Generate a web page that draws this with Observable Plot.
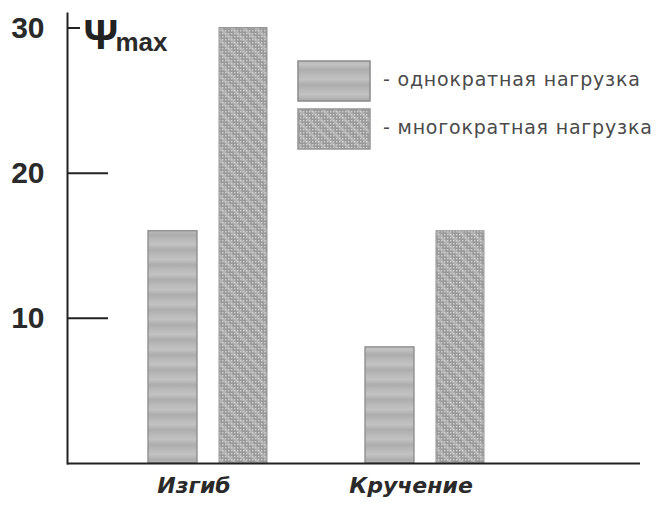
<!DOCTYPE html>
<html>
<head>
<meta charset="utf-8">
<script src="https://cdn.jsdelivr.net/npm/d3@7"></script>
<script src="https://cdn.jsdelivr.net/npm/@observablehq/plot@0.6"></script>
<style>
  html, body { margin: 0; padding: 0; background: #fff; }
  #wrap { position: relative; width: 659px; height: 505px; }
  #legend { position: absolute; left: 297px; top: 59px; font-family: "DejaVu Sans", sans-serif; font-size: 19px; color: #4a4a4a; }
  .item { display: flex; align-items: center; height: 44px; margin-bottom: 4px; }
  .item svg { display: block; }
  .item span { margin-left: 11px; letter-spacing: 0.8px; position: relative; top: -2px; }
  #defs { position: absolute; width: 0; height: 0; }
</style>
</head>
<body>
<svg id="defs" width="0" height="0">
  <defs>
    <linearGradient id="bandGrad" x1="0" y1="0" x2="0" y2="1">
      <stop offset="0" stop-color="#bababa"/>
      <stop offset="0.3" stop-color="#c2c2c2"/>
      <stop offset="0.65" stop-color="#adadad"/>
      <stop offset="1" stop-color="#bababa"/>
    </linearGradient>
    <pattern id="stripes" patternUnits="userSpaceOnUse" width="12" height="15">
      <rect width="12" height="15" fill="url(#bandGrad)"/>
    </pattern>
    <pattern id="dots" patternUnits="userSpaceOnUse" width="12" height="12">
      <rect width="12" height="12" fill="#999999"/>
      <path d="M-3,-3 L15,15 M-3,9 L3,15 M9,-3 L15,3" stroke="#b3b3b3" stroke-width="3"/>
      <g fill="#d0d0d0">
        <rect x="0" y="0" width="1.4" height="1.4"/><rect x="3" y="0" width="1.4" height="1.4"/><rect x="6" y="0" width="1.4" height="1.4"/><rect x="9" y="0" width="1.4" height="1.4"/>
        <rect x="0" y="3" width="1.4" height="1.4"/><rect x="3" y="3" width="1.4" height="1.4"/><rect x="6" y="3" width="1.4" height="1.4"/><rect x="9" y="3" width="1.4" height="1.4"/>
        <rect x="0" y="6" width="1.4" height="1.4"/><rect x="3" y="6" width="1.4" height="1.4"/><rect x="6" y="6" width="1.4" height="1.4"/><rect x="9" y="6" width="1.4" height="1.4"/>
        <rect x="0" y="9" width="1.4" height="1.4"/><rect x="3" y="9" width="1.4" height="1.4"/><rect x="6" y="9" width="1.4" height="1.4"/><rect x="9" y="9" width="1.4" height="1.4"/>
      </g>
    </pattern>
  </defs>
</svg>
<div id="wrap">
  <div id="chart"></div>
  <div id="legend"></div>
</div>
<script>
// ---- data ----
const categories = ["Изгиб", "Кручение"];
const seriesNames = ["однократная нагрузка", "многократная нагрузка"];
const singleLoad = [16, 8];
const repeatedLoad = [30, 16];
const yTicks = [10, 20, 30];
const yLabel = ["Ψ", "max"];

// ---- tables built from the arrays ----
const singleData = categories.map((c, i) => ({category: c, value: singleLoad[i]}));
const repeatedData = categories.map((c, i) => ({category: c, value: repeatedLoad[i]}));
const fills = ["url(#stripes)", "url(#dots)"];
const strokes = ["#8a8a8a", "#959595"];

const chart = Plot.plot({
  width: 659,
  height: 505,
  marginLeft: 67,
  marginRight: 19,
  marginTop: 13,
  marginBottom: 42,
  style: {background: "white", color: "#222", fontFamily: "'Liberation Sans', Arial, sans-serif"},
  x: {domain: categories, paddingInner: 0, paddingOuter: 0.32, align: 0},
  y: {domain: [0, 31]},
  marks: [
    Plot.barY(singleData, {x: "category", y: "value", insetLeft: 81, insetRight: 87,
      fill: fills[0], stroke: strokes[0], strokeWidth: 1.3}),
    Plot.barY(repeatedData, {x: "category", y: "value", insetLeft: 152, insetRight: 17,
      fill: fills[1], stroke: strokes[1], strokeWidth: 1}),
    Plot.tickY(yTicks.filter(d => d < 30), {y: d => d, insetRight: 532, stroke: "#222", strokeWidth: 2}),
    Plot.tickY(yTicks.filter(d => d >= 30), {y: d => d, insetRight: 560, stroke: "#222", strokeWidth: 2}),
    Plot.ruleY([0], {stroke: "#222", strokeWidth: 2}),
    Plot.frame({anchor: "left", stroke: "#222", strokeWidth: 2}),
    Plot.axisY({ticks: yTicks, tickSize: 0, tickPadding: 23, fontSize: 30, fontWeight: "bold",
      fill: "#2a2a2a", label: null}),
    Plot.axisX({tickSize: 0, tickPadding: 14, fontSize: 22, fontWeight: "bold", fontStyle: "italic",
      fontFamily: "'DejaVu Sans', sans-serif", fill: "#2a2a2a", dx: 18, label: null}),
    Plot.text([yLabel[0]], {text: d => d, frameAnchor: "top-left", dx: 16, dy: 35, lineAnchor: "bottom",
      textAnchor: "start", fontSize: 43, fontWeight: "bold", fill: "#222"}),
    Plot.text([yLabel[1]], {text: d => d, frameAnchor: "top-left", dx: 48, dy: 37, lineAnchor: "bottom",
      textAnchor: "start", fontSize: 26, fontWeight: "bold", fill: "#2a2a2a"})
  ]
});
document.getElementById("chart").appendChild(chart);

// ---- legend ----
const legend = document.getElementById("legend");
seriesNames.forEach((name, i) => {
  const item = document.createElement("div");
  item.className = "item";
  item.innerHTML = `<svg width="75" height="42"><rect x="1" y="1" width="72" height="40" fill="${fills[i]}" stroke="${strokes[i]}" stroke-width="1.5"/></svg><span>- ${name}</span>`;
  legend.appendChild(item);
});
</script>
</body>
</html>
